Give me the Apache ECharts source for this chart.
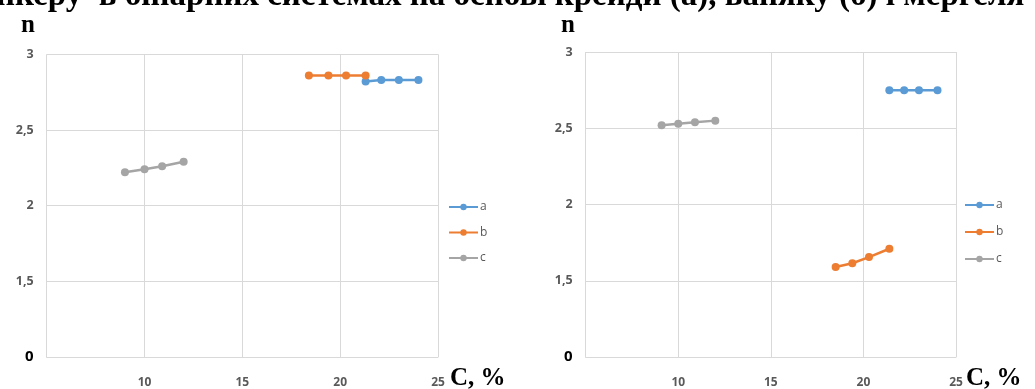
<!DOCTYPE html>
<html>
<head>
<meta charset="utf-8">
<script src="https://cdn.jsdelivr.net/npm/echarts@6/dist/echarts.min.js"></script>
<style>
html,body{margin:0;padding:0;background:#fff;}
#c{width:1035px;height:389px;}
</style>
</head>
<body>
<div id="c"></div>
<script>
// ---- data ----
const titleText = 'нкеру  в бінарних системах на основі крейди (а), ваняку (б) і мергеля';
const seriesNames = ['a', 'b', 'c'];
const colors = ['#5B9BD5', '#ED7D31', '#A5A5A5'];
// left chart
const leftA = [[21.3, 2.82], [22.1, 2.83], [23.0, 2.83], [24.0, 2.83]];
const leftB = [[18.4, 2.86], [19.4, 2.86], [20.3, 2.86], [21.3, 2.86]];
const leftC = [[9.0, 2.22], [10.0, 2.24], [10.9, 2.26], [12.0, 2.29]];
// right chart
const rightA = [[21.4, 2.75], [22.2, 2.75], [23.0, 2.75], [24.0, 2.75]];
const rightB = [[18.5, 1.59], [19.4, 1.615], [20.3, 1.655], [21.4, 1.71]];
const rightC = [[9.1, 2.52], [10.0, 2.53], [10.9, 2.54], [12.0, 2.55]];
// ticks
const xTicks = [5, 10, 15, 20, 25];
const xTickLabels = ['', '10', '15', '20', '25'];
const yTicks = [1, 1.5, 2, 2.5, 3];
const yTickLabels = ['0', '1,5', '2', '2,5', '3'];
const xAxisName = 'C, %';
const yAxisName = 'n';

const chart = echarts.init(document.getElementById('c'));
const gridLine = '#d9d9d9';
const labelFont = '"Open Sans", "Liberation Sans", sans-serif';

function xAxisCfg(gi) {
  return {
    type: 'value', gridIndex: gi, min: xTicks[0], max: xTicks[xTicks.length - 1], interval: 5,
    axisLine: { show: true, lineStyle: { color: gridLine, width: 1 } },
    axisTick: { show: false },
    splitLine: { show: true, lineStyle: { color: gridLine, width: 1 } },
    axisLabel: {
      margin: 20, color: '#595959', fontSize: 12, fontWeight: 'bold', fontFamily: labelFont,
      formatter: v => { const i = xTicks.indexOf(v); return i >= 0 ? xTickLabels[i] : ''; }
    }
  };
}
function yAxisCfg(gi) {
  return {
    type: 'value', gridIndex: gi, min: yTicks[0], max: yTicks[yTicks.length - 1], interval: 0.5,
    axisLine: { show: false }, axisTick: { show: false },
    splitLine: { show: true, lineStyle: { color: gridLine, width: 1 } },
    axisLabel: {
      margin: 13, color: '#595959', fontSize: 12.5, fontWeight: 'bold', fontFamily: labelFont,
      formatter: v => {
        const i = yTicks.findIndex(t => Math.abs(t - v) < 1e-9);
        if (i < 0) return '';
        return i === 0 ? '{z|' + yTickLabels[i] + '}' : yTickLabels[i];
      },
      rich: { z: { color: '#000', fontSize: 15, fontWeight: 'bold', fontFamily: labelFont } }
    }
  };
}
function lineSeries(name, data, gi, ci) {
  return {
    type: 'line', name: name, data: data, xAxisIndex: gi, yAxisIndex: gi,
    symbol: 'circle', symbolSize: 8, color: colors[ci],
    lineStyle: { width: 2.5, color: colors[ci] }, itemStyle: { color: colors[ci] },
    animation: false
  };
}
function legendCfg(left, top, gap) {
  return {
    orient: 'vertical', left: left, top: top, data: seriesNames,
    itemWidth: 29, itemHeight: 8, itemGap: gap, selectedMode: false,
    textStyle: { color: '#595959', fontSize: 12, fontFamily: labelFont, padding: [0, 0, 0, -3] }
  };
}
const serifBold = { fontFamily: '"Liberation Serif", "DejaVu Serif", serif', fontWeight: 'bold', fill: '#000' };

chart.setOption({
  animation: false,
  grid: [
    { left: 46.7, top: 54.3, width: 391.3, height: 303.7 },
    { left: 585.7, top: 52, width: 370.3, height: 305.5 }
  ],
  xAxis: [xAxisCfg(0), xAxisCfg(1)],
  yAxis: [yAxisCfg(0), yAxisCfg(1)],
  legend: [legendCfg(443, 196, 13.5), legendCfg(959, 194, 15)],
  series: [
    lineSeries(seriesNames[0], leftA, 0, 0),
    lineSeries(seriesNames[1], leftB, 0, 1),
    lineSeries(seriesNames[2], leftC, 0, 2),
    lineSeries(seriesNames[0], rightA, 1, 0),
    lineSeries(seriesNames[1], rightB, 1, 1),
    lineSeries(seriesNames[2], rightC, 1, 2)
  ],
  graphic: [
    { type: 'text', left: -4, top: -20, style: Object.assign({ text: titleText, fontSize: 33 }, serifBold) },
    { type: 'text', left: 21, top: 13, style: Object.assign({ text: yAxisName, fontSize: 25 }, serifBold) },
    { type: 'text', left: 561, top: 13, style: Object.assign({ text: yAxisName, fontSize: 25 }, serifBold) },
    { type: 'text', left: 450, top: 366, style: Object.assign({ text: xAxisName, fontSize: 25 }, serifBold) },
    { type: 'text', left: 966, top: 366, style: Object.assign({ text: xAxisName, fontSize: 25 }, serifBold) }
  ]
});
</script>
</body>
</html>
